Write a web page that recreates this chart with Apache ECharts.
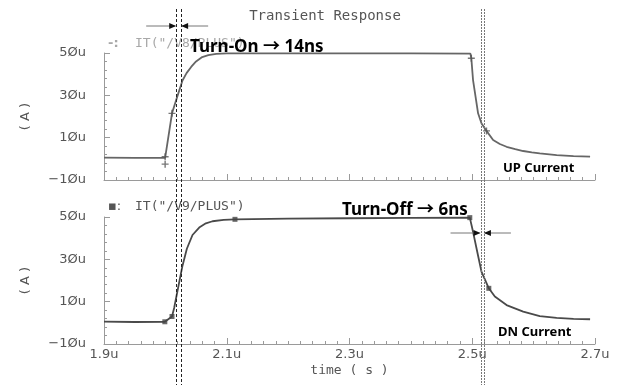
<!DOCTYPE html>
<html><head><meta charset="utf-8">
<script src="https://cdn.jsdelivr.net/npm/echarts@6/dist/echarts.min.js"></script>
<style>html,body{margin:0;padding:0;background:#fff}#c{width:624px;height:385px}</style>
</head><body><div id="c"></div>
<script>
// ---- data (time in µs, current in µA) ----
const upTime =    [1.9, 1.95, 1.9996, 2.0108, 2.0195, 2.0279, 2.0345, 2.042, 2.05, 2.06, 2.07, 2.083, 2.1, 2.2, 2.3, 2.4, 2.497, 2.4985, 2.5013, 2.5095, 2.515, 2.5232, 2.534, 2.5449, 2.5559, 2.57, 2.583, 2.597, 2.61, 2.6375, 2.665, 2.692];
const upCurrent = [0.6, 0.5, 0.5, 21.5, 29.5, 37, 40.5, 43.4, 46, 48.1, 49, 49.6, 49.8, 49.8, 49.8, 49.8, 49.7, 47.5, 37.2, 21.5, 16.8, 13.2, 8.9, 7.0, 5.7, 4.6, 3.7, 3.1, 2.6, 1.8, 1.3, 1.0];
const dnTime =    [1.9, 1.95, 1.9991, 2.0108, 2.0143, 2.0224, 2.0279, 2.035, 2.0442, 2.0551, 2.066, 2.0768, 2.095, 2.1134, 2.2, 2.3, 2.4, 2.496, 2.5013, 2.5095, 2.515, 2.527, 2.5368, 2.5559, 2.583, 2.61, 2.6375, 2.665, 2.692];
const dnCurrent = [0.6, 0.4, 0.5, 3.0, 7, 19, 27, 35, 41.5, 45, 47, 48, 48.6, 48.9, 49.2, 49.4, 49.6, 49.7, 43, 31.7, 24.2, 16.3, 12.4, 8.4, 5.3, 3.2, 2.3, 1.9, 1.7];
const upMarkTime =    [1.9996, 1.9996, 2.0108, 2.4985, 2.5232];
const upMarkCurrent = [1.0, -2.5, 21.5, 47.5, 13.2];
const dnMarkTime =    [1.9991, 2.0108, 2.1134, 2.496, 2.527];
const dnMarkCurrent = [0.5, 3.0, 48.9, 49.7, 16.3];
const cursorTimes = [2.0176, 2.0257, 2.5135, 2.519];
const xTickLabels = ['1.9u', '2.1u', '2.3u', '2.5u', '2.7u'];
const yTickLabels = ['\u22121\u00d8u', '1\u00d8u', '3\u00d8u', '5\u00d8u'];
const legendUpMark = '-:';
const legendDnMark = '\u25aa:';
const legendUp = 'IT("/V8/PLUS")';
const legendDn = 'IT("/V9/PLUS")';
const titleText = 'Transient Response';
const noteOn = 'Turn-On \u2192 14ns';
const noteOff = 'Turn-Off \u2192 6ns';
const labelUp = 'UP Current';
const labelDn = 'DN Current';

// axis offsets so that min is a multiple of the interval
const T0 = 1.9, I0 = -10;
const toX = t => (t - T0) * 1000;
const toY = v => v - I0;
const pairs = (ts, vs) => ts.map((t, i) => [toX(t), toY(vs[i])]);

const FONT = 'DejaVu Sans';
const MONO = 'DejaVu Sans Mono';
const axisGray = '#9a9a9a';
function xAxis(grid, labels) {
  return {
    type: 'value', gridIndex: grid, min: 0, max: 800, interval: 200,
    axisLine: { show: true, lineStyle: { color: axisGray, width: 1 } },
    axisTick: { show: true, inside: true, length: 6, lineStyle: { color: axisGray } },
    minorTick: { show: true, splitNumber: 10, length: 3, lineStyle: { color: axisGray } },
    splitLine: { show: false }, minorSplitLine: { show: false },
    axisLabel: labels ? { show: true, color: '#555', fontSize: 13, fontFamily: FONT, margin: 4,
      formatter: v => xTickLabels[Math.round(v / 200)] } : { show: false },
    name: labels ? 'time ( s )' : '', nameLocation: 'middle', nameGap: 20,
    nameTextStyle: { color: '#555', fontSize: 13, fontFamily: MONO }
  };
}
function yAxis(grid) {
  return {
    type: 'value', gridIndex: grid, min: 0, max: 60, interval: 20,
    axisLine: { show: true, lineStyle: { color: axisGray, width: 1 } },
    axisTick: { show: true, inside: true, length: 6, lineStyle: { color: axisGray } },
    minorTick: { show: true, splitNumber: 5, length: 3, lineStyle: { color: axisGray } },
    splitLine: { show: false }, minorSplitLine: { show: false },
    axisLabel: { color: '#555', fontSize: 13, fontFamily: FONT, margin: 18,
      formatter: v => yTickLabels[Math.round(v / 20)] },
    name: '( A )', nameLocation: 'middle', nameRotate: 90, nameGap: 72,
    nameTextStyle: { color: '#555', fontSize: 13, fontFamily: FONT }
  };
}
const plusPath = 'path://M4,0h2v10h-2z M0,4h10v2h-10z';
const chart = echarts.init(document.getElementById('c'), null, { renderer: 'canvas' });
chart.setOption({
  animation: false,
  backgroundColor: '#fff',
  grid: [
    { left: 104, top: 53, width: 491, height: 127 },
    { left: 104, top: 217, width: 491, height: 127 }
  ],
  xAxis: [xAxis(0, false), xAxis(1, true)],
  yAxis: [yAxis(0), yAxis(1)],
  series: [
    { type: 'line', xAxisIndex: 0, yAxisIndex: 0, data: pairs(upTime, upCurrent), showSymbol: false,
      lineStyle: { color: '#666', width: 1.8 }, z: 3 },
    { type: 'line', xAxisIndex: 1, yAxisIndex: 1, data: pairs(dnTime, dnCurrent), showSymbol: false,
      lineStyle: { color: '#4a4a4a', width: 1.8 }, z: 3 },
    { type: 'scatter', xAxisIndex: 0, yAxisIndex: 0, data: pairs(upMarkTime, upMarkCurrent),
      symbol: plusPath, symbolSize: [7, 7], itemStyle: { color: '#555' }, z: 4 },
    { type: 'scatter', xAxisIndex: 1, yAxisIndex: 1, data: pairs(dnMarkTime, dnMarkCurrent),
      symbol: 'rect', symbolSize: 5, itemStyle: { color: '#444' }, z: 4 }
  ]
});

function px(t) { return chart.convertToPixel({ gridIndex: 0 }, [toX(t), 0])[0]; }
const cx = cursorTimes.map(px);
const g = [];
cx.forEach((x, i) => {
  g.push({ type: 'line', shape: { x1: Math.round(x) + 0.5, y1: 9, x2: Math.round(x) + 0.5, y2: 385 },
    style: { stroke: i < 2 ? '#222' : '#777', lineWidth: 1, lineDash: i < 2 ? [3, 2] : [2, 1] }, z: 10 });
});
function arrowPair(y, xa, xb) {
  const c = '#777';
  g.push({ type: 'line', shape: { x1: xa - 30, y1: y, x2: xa - 1, y2: y }, style: { stroke: c, lineWidth: 1 }, z: 11 });
  g.push({ type: 'polygon', shape: { points: [[xa, y], [xa - 7, y - 3], [xa - 7, y + 3]] }, style: { fill: '#111' }, z: 12 });
  g.push({ type: 'line', shape: { x1: xb + 1, y1: y, x2: xb + 27, y2: y }, style: { stroke: c, lineWidth: 1 }, z: 11 });
  g.push({ type: 'polygon', shape: { points: [[xb, y], [xb + 7, y - 3], [xb + 7, y + 3]] }, style: { fill: '#111' }, z: 12 });
}
arrowPair(26, cx[0], cx[1]);
arrowPair(233, cx[2], cx[3]);
g.push({ type: 'text', x: 325, y: 16, style: { text: titleText, fill: '#555', font: '14px "DejaVu Sans Mono"', textAlign: 'center', textVerticalAlign: 'middle' }, z: 5 });
g.push({ type: 'text', x: 108, y: 44, style: { text: legendUpMark, fill: '#a8a8a8', font: 'bold 13px "DejaVu Sans"', textVerticalAlign: 'middle' }, z: 5 });
g.push({ type: 'text', x: 135, y: 44, style: { text: legendUp, fill: '#a8a8a8', font: '13px "DejaVu Sans Mono"', textVerticalAlign: 'middle' }, z: 5 });
g.push({ type: 'text', x: 108, y: 207, style: { text: legendDnMark, fill: '#555', font: '13px "DejaVu Sans"', textVerticalAlign: 'middle' }, z: 5 });
g.push({ type: 'text', x: 135, y: 207, style: { text: legendDn, fill: '#555', font: '13px "DejaVu Sans Mono"', textVerticalAlign: 'middle' }, z: 5 });
const boldFont = s => 'bold ' + s + 'px "Noto Sans", "Noto Sans CJK KR", sans-serif';
g.push({ type: 'text', x: 190, y: 47, style: { text: noteOn, fill: '#000', font: boldFont(17), textVerticalAlign: 'middle' }, z: 20 });
g.push({ type: 'text', x: 342, y: 210, style: { text: noteOff, fill: '#000', font: boldFont(17), textVerticalAlign: 'middle' }, z: 20 });
g.push({ type: 'text', x: 503, y: 168, style: { text: labelUp, fill: '#000', font: boldFont(13), textVerticalAlign: 'middle' }, z: 20 });
g.push({ type: 'text', x: 498, y: 332, style: { text: labelDn, fill: '#000', font: boldFont(13), textVerticalAlign: 'middle' }, z: 20 });
chart.setOption({ graphic: g });
</script>
</body></html>
